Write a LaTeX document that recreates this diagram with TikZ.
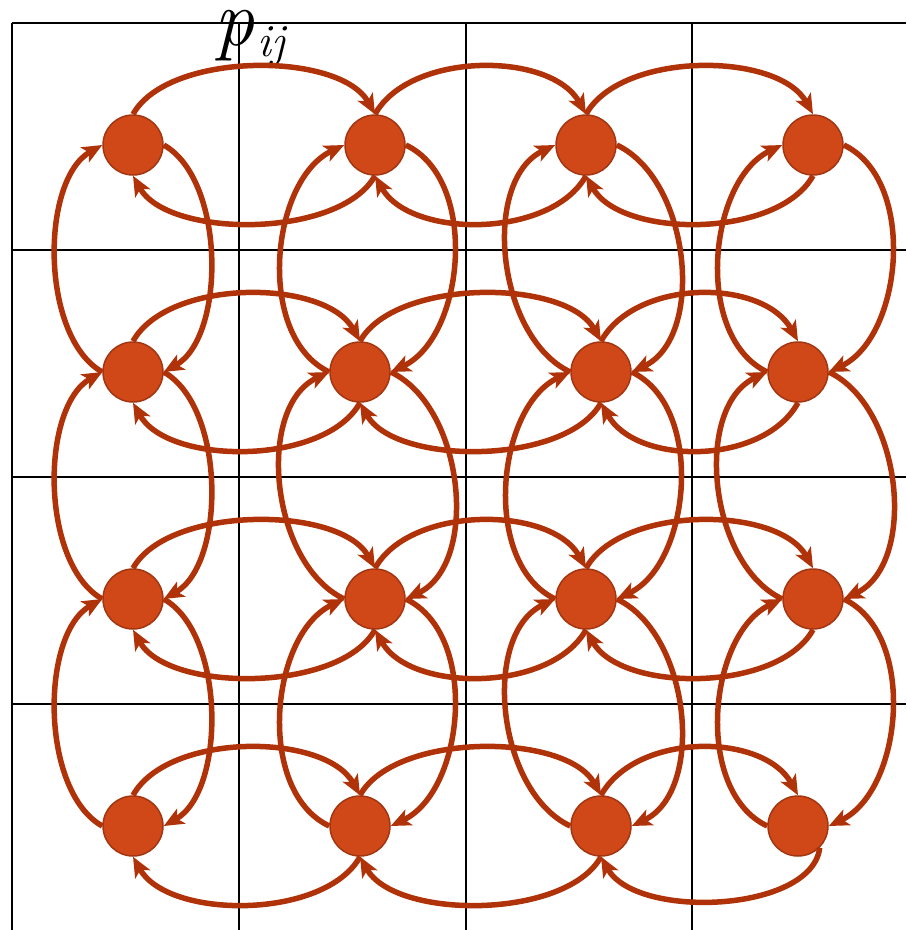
\documentclass[tikz,border=0pt]{standalone}
\usetikzlibrary{arrows.meta}
\definecolor{nodefill}{HTML}{D04818}
\definecolor{nodeedge}{HTML}{A33611}
\definecolor{arccol}{HTML}{B03208}
\newcommand{\hpair}[2]{%
  \draw[link] (#1.north) .. controls +(35,-63) and +(-35,-63) .. (#2.north);
  \draw[link] (#2.south) .. controls +(-35,63) and +(35,63) .. (#1.south);}
\newcommand{\vpair}[3]{%
  \draw[link] (#2.west) .. controls +(-#3,-35) and +(-#3,35) .. (#1.west);
  \draw[link] (#1.east) .. controls +(#3,35) and +(#3,-35) .. (#2.east);}
\begin{document}
\begin{tikzpicture}[x=1pt,y=-1pt,
  dot/.style={circle,minimum size=60pt,inner sep=0pt,fill=nodefill,draw=nodeedge,line width=1.5pt},
  link/.style={draw=arccol,line width=5.5pt,-{Stealth[length=20pt,width=17pt,inset=5pt]}},
  gridline/.style={black,line width=2pt}]
\useasboundingbox (0,0) rectangle (906,930);
% grid
\foreach \gx in {12,239,466,692} \draw[gridline] (\gx,23) -- (\gx,930);
\foreach \gy in {23,250,477,704} \draw[gridline] (12,\gy) -- (906,\gy);
% label
\node[anchor=base west,inner sep=0pt,font=\fontsize{80}{88}\selectfont\itshape] (lbl) at (214,45) {p\kern3pt\raisebox{-11pt}{\fontsize{46}{50}\selectfont ij}};
% nodes
\node[dot] (n11) at (133,145) {};
\node[dot] (n12) at (375,145) {};
\node[dot] (n13) at (586,145) {};
\node[dot] (n14) at (813,145) {};
\node[dot] (n21) at (133,372) {};
\node[dot] (n22) at (360,372) {};
\node[dot] (n23) at (601,372) {};
\node[dot] (n24) at (798,372) {};
\node[dot] (n31) at (133,599) {};
\node[dot] (n32) at (375,599) {};
\node[dot] (n33) at (586,599) {};
\node[dot] (n34) at (813,599) {};
\node[dot] (n41) at (133,826) {};
\node[dot] (n42) at (360,826) {};
\node[dot] (n43) at (601,826) {};
\node[dot] (n44) at (798,826) {};
% horizontal pairs
\hpair{n11}{n12}\hpair{n12}{n13}\hpair{n13}{n14}
\hpair{n21}{n22}\hpair{n22}{n23}\hpair{n23}{n24}
\hpair{n31}{n32}\hpair{n32}{n33}\hpair{n33}{n34}
\hpair{n41}{n42}\hpair{n42}{n43}
\draw[link] (n43.north) .. controls +(35,-63) and +(-35,-63) .. (n44.north);
\draw[link] (n44.-45) .. controls +(-8,65) and +(35,63) .. (n43.south);
% vertical pairs
\vpair{n11}{n21}{62}\vpair{n21}{n31}{62}\vpair{n31}{n41}{62}
\vpair{n12}{n22}{74}\vpair{n22}{n32}{74}\vpair{n32}{n42}{74}
\vpair{n13}{n23}{74}\vpair{n23}{n33}{74}\vpair{n33}{n43}{74}
\vpair{n14}{n24}{74}\vpair{n24}{n34}{74}\vpair{n34}{n44}{74}
\end{tikzpicture}
\end{document}
